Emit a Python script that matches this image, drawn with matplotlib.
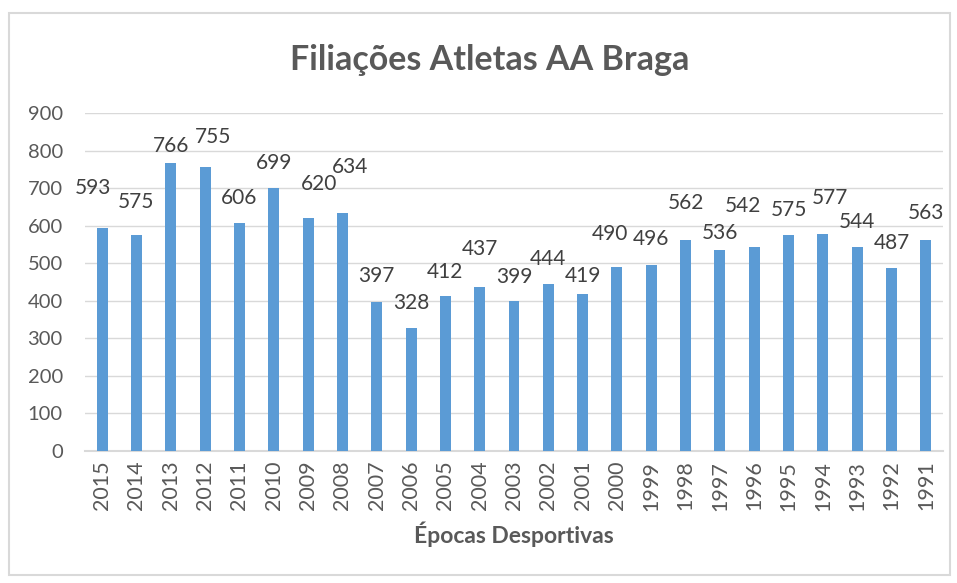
import matplotlib.pyplot as plt
from matplotlib.patches import Rectangle

plt.rcParams['font.family'] = ['Lato', 'DejaVu Sans']

epocas = ['2015', '2014', '2013', '2012', '2011', '2010', '2009', '2008', '2007',
          '2006', '2005', '2004', '2003', '2002', '2001', '2000', '1999', '1998',
          '1997', '1996', '1995', '1994', '1993', '1992', '1991']
filiacoes = [593, 575, 766, 755, 606, 699, 620, 634, 397, 328, 412, 437, 399,
             444, 419, 490, 496, 562, 536, 542, 575, 577, 544, 487, 563]
# label placement as in the original chart (height in data units, shift in categories)
label_y = [700, 662, 813, 837, 674, 767, 711, 756, 466, 394, 477, 538, 463,
           511, 466, 578, 564, 660, 580, 652, 642, 674, 610, 554, 634]
label_dx = [-0.28, 0, 0, 0.23, 0, 0, 0.32, 0.22, 0, 0, 0, 0, 0,
            0, 0, -0.2, 0, 0, 0, -0.32, 0, 0.2, 0, 0, 0]

grey = '#595959'
fig = plt.figure(figsize=(9.57, 5.83), dpi=100)
fig.patch.set_facecolor('white')
fig.add_artist(Rectangle((9/957, 1 - 575/583), 941/957, 562/583, transform=fig.transFigure,
                         fill=False, edgecolor='#D9D9D9', linewidth=1.5))

ax = fig.add_axes([85/957, 1 - 451/583, 858/957, 338/583])
x = range(len(epocas))
ax.bar(x, filiacoes, width=0.32, color='#5B9BD5', zorder=3)

for i, v in enumerate(filiacoes):
    ax.text(i + label_dx[i], label_y[i], str(v), ha='center', va='center',
            fontsize=15, color='#404040')

ax.set_xlim(-0.5, len(epocas) - 0.5)
ax.set_ylim(0, 900)
ax.set_yticks(range(0, 901, 100))
ax.set_xticks(list(x))
ax.set_xticklabels(epocas, rotation=90, fontsize=15.5, color=grey)
ax.tick_params(axis='y', labelsize=14.5, labelcolor=grey, length=0, pad=16)
ax.tick_params(axis='x', length=0, pad=7)
ax.grid(axis='y', color='#D9D9D9', linewidth=1, zorder=0)
for s in ['top', 'right', 'left']:
    ax.spines[s].set_visible(False)
ax.spines['bottom'].set_color('#D9D9D9')
ax.spines['bottom'].set_linewidth(1.5)

ax.set_xlabel('Épocas Desportivas', fontsize=16.5, fontweight='bold', color=grey, labelpad=8)
fig.text(490/957, 1 - 60/583, 'Filiações Atletas AA Braga', ha='center', va='center',
         fontsize=24.5, fontweight='bold', color=grey)

fig.savefig('out.png', dpi=100)
